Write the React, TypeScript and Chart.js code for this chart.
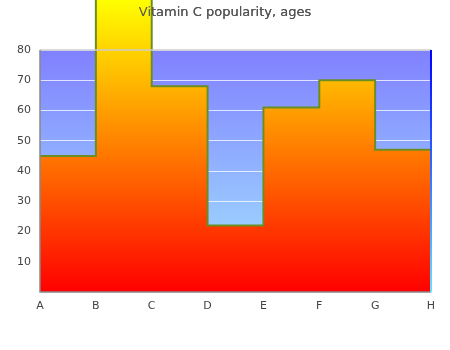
import React, { useEffect, useRef } from "react";
import { Chart, registerables } from "chart.js";

Chart.register(...registerables);

const categories = ["A", "B", "C", "D", "E", "F", "G", "H"];
const popularity = [45, 100, 68, 22, 61, 70, 47, 47];
const yMin = 0;
const yMax = 80;
const yStep = 10;
const chartTitle = "Vitamin C popularity, ages";

const FONT = "'DejaVu Sans', Verdana, sans-serif";

const backgroundPlugin = {
  id: "plotBackground",
  afterLayout(chart: any) {
    if (chart.titleBlock) {
      chart.titleBlock.left = 0;
      chart.titleBlock.right = chart.width;
    }
  },
  beforeDraw(chart: any) {
    const { ctx, chartArea } = chart;
    if (!chartArea) return;
    const g = ctx.createLinearGradient(0, chartArea.top, 0, chartArea.bottom);
    g.addColorStop(0, "#8080ff");
    g.addColorStop(1, "#a4e8ff");
    ctx.save();
    ctx.fillStyle = g;
    ctx.fillRect(chartArea.left, chartArea.top, chartArea.right - chartArea.left, chartArea.bottom - chartArea.top);
    ctx.restore();
  },
};

const stepFillPlugin = {
  id: "stepFill",
  beforeDatasetDraw(chart: any, args: any) {
    const meta = args.meta;
    const line = meta.dataset;
    const pts = meta.data;
    if (!line || !pts || !pts.length) return;
    const { ctx, chartArea } = chart;
    const baseY = chart.scales.y.getPixelForValue(0);
    const g = ctx.createLinearGradient(0, 0, 0, chartArea.bottom);
    g.addColorStop(0, "#ffff00");
    g.addColorStop(1, "#ff0000");
    ctx.save();
    ctx.beginPath();
    line.path(ctx);
    ctx.lineTo(pts[pts.length - 1].x, baseY);
    ctx.lineTo(pts[0].x, baseY);
    ctx.closePath();
    ctx.fillStyle = g;
    ctx.fill();
    ctx.restore();
  },
};

const framePlugin = {
  id: "frame",
  afterDatasetsDraw(chart: any) {
    const { ctx, chartArea } = chart;
    const { left, right, top, bottom } = chartArea;
    ctx.save();
    ctx.lineWidth = 1.5;
    ctx.strokeStyle = "#cccccc";
    ctx.beginPath();
    ctx.moveTo(left, top);
    ctx.lineTo(right, top);
    ctx.stroke();
    ctx.strokeStyle = "#888888";
    ctx.beginPath();
    ctx.moveTo(left, top);
    ctx.lineTo(left, bottom);
    ctx.lineTo(right, bottom);
    ctx.stroke();
    const g = ctx.createLinearGradient(0, top, 0, bottom);
    g.addColorStop(0, "#0000ff");
    g.addColorStop(1, "#66e0ff");
    ctx.strokeStyle = g;
    ctx.lineWidth = 2;
    ctx.beginPath();
    ctx.moveTo(right, top);
    ctx.lineTo(right, bottom);
    ctx.stroke();
    ctx.restore();
    if (chart.titleBlock) chart.titleBlock.draw(chartArea);
  },
};

export default function App() {
  const ref = useRef<HTMLCanvasElement | null>(null);

  useEffect(() => {
    document.body.style.margin = "0";
    const canvas = ref.current;
    if (!canvas) return;
    const chart = new Chart(canvas, {
      type: "line",
      data: {
        labels: categories,
        datasets: [
          {
            data: popularity,
            stepped: true,
            fill: false,
            borderColor: "#6b8e23",
            borderWidth: 2,
            pointRadius: 0,
            clip: false as any,
            tension: 0,
          },
        ],
      },
      options: {
        responsive: false,
        animation: false,
        layout: { padding: { left: 0, right: 19, top: 0, bottom: 0 } },
        plugins: {
          legend: { display: false },
          tooltip: { enabled: false },
          title: {
            display: true,
            text: chartTitle,
            color: "#555555",
            font: { family: FONT, size: 13, weight: "normal" },
            padding: { top: 5, bottom: 29.4 },
          },
        },
        scales: {
          x: {
            type: "category",
            offset: false,
            grid: { display: false, drawTicks: false },
            border: { display: false },
            ticks: {
              color: "#444444",
              font: { family: FONT, size: 11 },
              padding: 8,
              maxRotation: 0,
            },
            afterFit(scale: any) {
              scale.height = 58;
            },
          },
          y: {
            min: yMin,
            max: yMax,
            grid: { color: "rgba(255,255,255,0.75)", drawTicks: false, lineWidth: 1 },
            border: { display: false },
            ticks: {
              stepSize: yStep,
              color: "#444444",
              font: { family: FONT, size: 11 },
              padding: 9,
              callback: (v: any) => (v === 0 ? "" : String(v)),
            },
            afterFit(scale: any) {
              scale.width = 40;
            },
          },
        },
      },
      plugins: [backgroundPlugin, stepFillPlugin, framePlugin],
    });
    return () => chart.destroy();
  }, []);

  return <canvas ref={ref} width={450} height={350} style={{ display: "block" }} />;
}
